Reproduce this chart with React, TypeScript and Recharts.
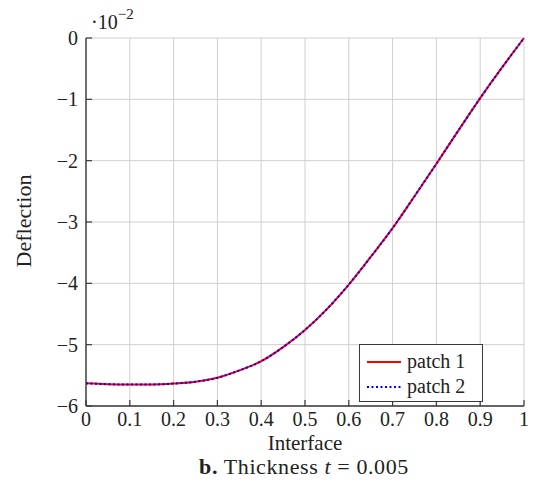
import React from 'react';
import { LineChart, Line, XAxis, YAxis, CartesianGrid, Legend } from 'recharts';

const interfacePos = [0, 0.05, 0.1, 0.15, 0.2, 0.25, 0.3, 0.35, 0.4, 0.45, 0.5, 0.55, 0.6, 0.65, 0.7, 0.75, 0.8, 0.85, 0.9, 0.95, 1];
const patch1 = [-5.63, -5.645, -5.65, -5.65, -5.635, -5.605, -5.54, -5.42, -5.27, -5.04, -4.76, -4.42, -4.02, -3.57, -3.1, -2.58, -2.05, -1.51, -0.98, -0.48, 0];
const patch2 = [-5.63, -5.645, -5.65, -5.65, -5.635, -5.605, -5.54, -5.42, -5.27, -5.04, -4.76, -4.42, -4.02, -3.57, -3.1, -2.58, -2.05, -1.51, -0.98, -0.48, 0];

const xTicks = [0, 0.1, 0.2, 0.3, 0.4, 0.5, 0.6, 0.7, 0.8, 0.9, 1];
const yTicks = [-6, -5, -4, -3, -2, -1, 0];

const FONT = '"Liberation Serif", "DejaVu Serif", serif';
const FRAME = '#3a3a3a';

const data = interfacePos.map((x, i) => ({ x, p1: patch1[i], p2: patch2[i] }));

// Legend box with line samples
const LegendBox = () => (
  <div
    style={{
      border: `1px solid ${FRAME}`,
      background: '#fff',
      fontFamily: FONT,
      fontSize: 20,
      color: '#222',
      padding: '4px 6px 3px 7px',
      lineHeight: '25px',
      boxSizing: 'border-box',
      height: 58,
    }}
  >
    <div style={{ display: 'flex', alignItems: 'center' }}>
      <svg width={36} height={10}>
        <line x1={0} y1={5} x2={34} y2={5} stroke="#ff0000" strokeWidth={2} />
      </svg>
      <span style={{ marginLeft: 4 }}>patch 1</span>
    </div>
    <div style={{ display: 'flex', alignItems: 'center' }}>
      <svg width={36} height={10}>
        <line x1={0} y1={5} x2={34} y2={5} stroke="#0000ff" strokeWidth={2} strokeDasharray="2 2.5" />
      </svg>
      <span style={{ marginLeft: 4 }}>patch 2</span>
    </div>
  </div>
);

export default function App() {
  const tickStyle = { fontFamily: FONT, fontSize: 20, fill: '#222' };
  const textBase = {
    position: 'absolute' as const,
    fontFamily: FONT,
    fontSize: 21,
    color: '#222',
    whiteSpace: 'nowrap' as const,
    lineHeight: 1,
  };
  return (
    <div style={{ position: 'absolute', left: 0, top: 0, width: 533, height: 486, background: '#fff' }}>
      <LineChart
        width={533}
        height={486}
        data={data}
        margin={{ top: 38, right: 9, bottom: 50, left: 0 }}
      >
        <CartesianGrid stroke="#cfcfcf" strokeWidth={1} />
        <XAxis
          dataKey="x"
          type="number"
          domain={[0, 1]}
          ticks={xTicks}
          interval={0}
          height={30}
          tickSize={-6}
          tickMargin={12}
          axisLine={{ stroke: FRAME, strokeWidth: 1.4 }}
          tickLine={{ stroke: FRAME, strokeWidth: 1.2 }}
          tick={tickStyle}
          tickFormatter={(v: number) => String(v)}
        />
        <XAxis
          xAxisId="top"
          orientation="top"
          dataKey="x"
          type="number"
          domain={[0, 1]}
          ticks={xTicks}
          interval={0}
          height={0}
          tickSize={-6}
          tick={false}
          axisLine={{ stroke: FRAME, strokeWidth: 1.4 }}
          tickLine={{ stroke: FRAME, strokeWidth: 1.2 }}
        />
        <YAxis
          type="number"
          domain={[-6, 0]}
          ticks={yTicks}
          interval={0}
          width={86}
          tickSize={-6}
          tickMargin={14}
          axisLine={{ stroke: FRAME, strokeWidth: 1.4 }}
          tickLine={{ stroke: FRAME, strokeWidth: 1.2 }}
          tick={tickStyle}
          tickFormatter={(v: number) => String(v).replace('-', '\u2212')}
        />
        <YAxis
          yAxisId="right"
          orientation="right"
          type="number"
          domain={[-6, 0]}
          ticks={yTicks}
          interval={0}
          width={0}
          tickSize={-6}
          tick={false}
          axisLine={{ stroke: FRAME, strokeWidth: 1.4 }}
          tickLine={{ stroke: FRAME, strokeWidth: 1.2 }}
        />
        <Line
          type="monotone"
          dataKey="p1"
          name="patch 1"
          stroke="#ff0000"
          strokeWidth={2}
          dot={false}
          isAnimationActive={false}
        />
        <Line
          type="monotone"
          dataKey="p2"
          name="patch 2"
          stroke="#0000ff"
          strokeWidth={2}
          strokeDasharray="2 2.5"
          dot={false}
          isAnimationActive={false}
        />
        <Legend
          layout="vertical"
          align="center"
          verticalAlign="middle"
          content={() => <LegendBox />}
          wrapperStyle={{ left: 359, top: 344, width: 124 }}
        />
      </LineChart>

      {/* exponent above the y axis */}
      <div style={{ ...textBase, left: 91, top: 12, fontSize: 20 }}>
        ·10<sup style={{ fontSize: 15, verticalAlign: 'top', position: 'relative', top: -5 }}>−2</sup>
      </div>

      {/* y axis title */}
      <div style={{ ...textBase, left: 24, top: 221, transform: 'translate(-50%, -50%) rotate(-90deg)', fontSize: 22 }}>
        Deflection
      </div>

      {/* x axis title */}
      <div style={{ ...textBase, left: 305, top: 443, transform: 'translate(-50%, -50%)', fontSize: 21 }}>
        Interface
      </div>

      {/* caption */}
      <div style={{ ...textBase, left: 304, top: 467, transform: 'translate(-50%, -50%)', fontSize: 22, letterSpacing: 0.6 }}>
        <b>b.</b> Thickness <i>t</i> = 0.005
      </div>
    </div>
  );
}
